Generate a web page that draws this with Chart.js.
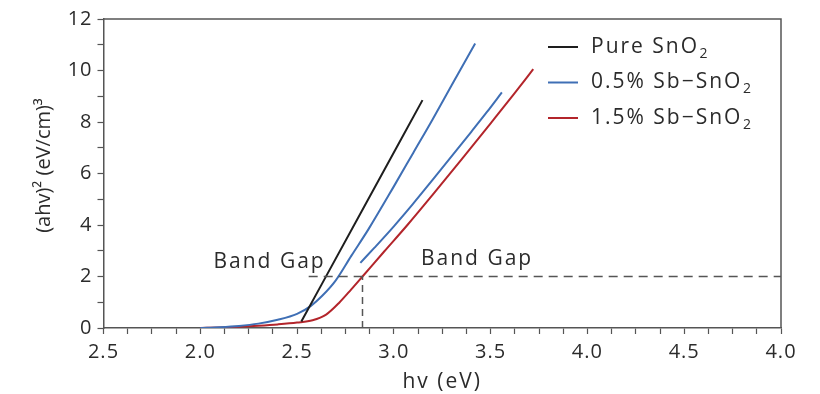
<!DOCTYPE html>
<html><head><meta charset="utf-8">
<script src="https://cdn.jsdelivr.net/npm/chart.js@4/dist/chart.umd.min.js"></script>
<style>html,body{margin:0;padding:0;background:#fff;} #wrap{width:820px;height:394px;position:relative}</style>
</head><body><div id="wrap"><canvas id="c" width="820" height="394"></canvas></div>
<script>
// ---- data ----
const xTickValues = [1.5, 2.0, 2.5, 3.0, 3.5, 4.0, 4.5, 5.0];
const xTickLabels = ['2.5', '2.0', '2.5', '3.0', '3.5', '4.0', '4.5', '4.0'];
const yTickValues = [0, 2, 4, 6, 8, 10, 12];
const yTickLabels = ['0', '2', '4', '6', '8', '10', '12'];
const xTitle = 'hv (eV)';
const yTitle = '(ahv)² (eV/cm)³';

const seriesNames = ['Pure SnO₂', '0.5% Sb−SnO₂', '1.5% Sb−SnO₂'];
const seriesColors = ['#1e1e1e', '#3f6fb5', '#b3252b'];

const hvPure = [2.522, 2.85, 3.148];
const yPure  = [0.25, 4.76, 8.85];

const hvBlueA = [2.0, 2.1, 2.2, 2.3, 2.4, 2.5, 2.57, 2.63, 2.7, 2.78, 2.87, 3.0, 3.1, 3.2, 3.3, 3.42];
const yBlueA  = [0.0, 0.03, 0.08, 0.17, 0.32, 0.55, 0.85, 1.25, 1.85, 2.8, 3.85, 5.5, 6.8, 8.1, 9.45, 11.05];

const hvBlueB = [2.827, 2.9, 3.0, 3.1, 3.2, 3.3, 3.4, 3.48, 3.558];
const yBlueB  = [2.53, 3.12, 3.95, 4.83, 5.75, 6.68, 7.62, 8.38, 9.15];

const hvRed = [2.0, 2.1, 2.2, 2.3, 2.4, 2.5, 2.58, 2.65, 2.72, 2.78, 2.838, 2.95, 3.07, 3.2, 3.35, 3.5, 3.62, 3.72];
const yRed  = [0.0, 0.02, 0.05, 0.09, 0.14, 0.21, 0.3, 0.52, 1.0, 1.5, 2.0, 2.97, 4.0, 5.17, 6.55, 7.95, 9.08, 10.05];

const bandGapY = 2;
const bandGapHv = 2.838;
const dashStartHv = 2.56;
const dashEndHv = 5.0;

const annotationTexts = ['Band Gap', 'Band Gap'];
const annotationHv = [2.358, 3.43];
const annotationY = [2.57, 2.68];

// ---- build ----
const pts = (xs, ys) => xs.map((x, i) => ({x: x, y: ys[i]}));
const FONT = "'Open Sans', 'DejaVu Sans', sans-serif";
const TXT = '#2b2b2b';
Chart.defaults.font.family = FONT;
Chart.defaults.color = TXT;

const lineDs = (label, data, color, legend) => ({
  label, data, borderColor: color, backgroundColor: color, borderWidth: 2,
  pointRadius: 0, showLine: true, tension: 0.4, cubicInterpolationMode: 'monotone',
  fill: false, inLegend: legend
});

const datasets = [
  {label: 'hdash', data: [{x: dashStartHv, y: bandGapY}, {x: dashEndHv, y: bandGapY}], borderColor: '#555', borderWidth: 1.5, borderDash: [9, 6], pointRadius: 0, showLine: true, inLegend: false},
  {label: 'vdash', data: [{x: bandGapHv, y: 0}, {x: bandGapHv, y: bandGapY}], borderColor: '#555', borderWidth: 1.5, borderDash: [7, 5], pointRadius: 0, showLine: true, inLegend: false},
  lineDs(seriesNames[0], pts(hvPure, yPure), seriesColors[0], true),
  lineDs(seriesNames[1], pts(hvBlueA, yBlueA), seriesColors[1], true),
  lineDs(seriesNames[1] + ' b', pts(hvBlueB, yBlueB), seriesColors[1], false),
  lineDs(seriesNames[2], pts(hvRed, yRed), seriesColors[2], true)
];

function drawSubText(ctx, text, x, y, size) {
  const parts = text.split('₂');
  let cx = x;
  parts.forEach((p, i) => {
    ctx.font = size + 'px ' + FONT;
    ctx.fillText(p, cx, y);
    cx += ctx.measureText(p).width;
    if (i < parts.length - 1) {
      ctx.font = Math.round(size * 0.68) + 'px ' + FONT;
      ctx.fillText('2', cx + 0.5, y + size * 0.32);
      cx += ctx.measureText('2').width + 0.5;
    }
  });
}

const decor = {
  id: 'decor',
  beforeDraw(chart) { chart.ctx.letterSpacing = '1px'; },
  afterDraw(chart) {
    const ctx = chart.ctx, ca = chart.chartArea;
    const xs = chart.scales.x, ys = chart.scales.y;
    ctx.save();
    // frame top & right
    ctx.strokeStyle = '#555'; ctx.lineWidth = 1.5;
    ctx.beginPath();
    ctx.moveTo(ca.left, ca.top); ctx.lineTo(ca.right, ca.top); ctx.lineTo(ca.right, ca.bottom);
    ctx.stroke();
    // axis titles
    ctx.fillStyle = TXT;
    ctx.textAlign = 'center'; ctx.textBaseline = 'middle';
    ctx.letterSpacing = '2px';
    ctx.font = '21px ' + FONT;
    ctx.fillText(xTitle, (ca.left + ca.right) / 2, ca.bottom + 54);
    ctx.save();
    ctx.letterSpacing = '0px';
    ctx.font = '20px ' + FONT;
    ctx.translate(44, (ca.top + ca.bottom) / 2 - 8);
    ctx.rotate(-Math.PI / 2);
    ctx.fillText(yTitle, 0, 0);
    ctx.restore();
    // annotations
    ctx.letterSpacing = '2px';
    ctx.font = '21px ' + FONT;
    annotationTexts.forEach((t, i) => {
      ctx.fillText(t, xs.getPixelForValue(annotationHv[i]), ys.getPixelForValue(annotationY[i]));
    });
    // legend
    const items = chart.data.datasets.filter(d => d.inLegend);
    const lx = 548, ly = 47, gap = 35.5;
    items.forEach((d, i) => {
      const y = ly + i * gap;
      ctx.strokeStyle = d.borderColor; ctx.lineWidth = 2;
      ctx.beginPath(); ctx.moveTo(lx, y); ctx.lineTo(lx + 30, y); ctx.stroke();
      ctx.fillStyle = TXT; ctx.textAlign = 'left'; ctx.textBaseline = 'middle';
      drawSubText(ctx, d.label, lx + 43, y, 21);
    });
    ctx.restore();
  }
};

new Chart(document.getElementById('c'), {
  type: 'scatter',
  data: {datasets},
  plugins: [decor],
  options: {
    responsive: false, animation: false,
    layout: {padding: {left: 56, right: 39, top: 19, bottom: 0}},
    plugins: {legend: {display: false}, tooltip: {enabled: false}},
    scales: {
      x: {
        type: 'linear', min: 1.5, max: 5.0,
        afterFit: (s) => { s.height = 66; },
        ticks: {
          stepSize: 0.125, autoSkip: false, maxRotation: 0, minRotation: 0, padding: 6,
          font: {size: 20}, color: TXT,
          callback: (v) => { const i = xTickValues.findIndex(t => Math.abs(t - v) < 1e-6); return i >= 0 ? xTickLabels[i] : ''; }
        },
        grid: {drawOnChartArea: false, tickLength: 6, color: '#555', tickColor: '#555', tickWidth: 1.2},
        border: {color: '#555', width: 1.5},
        title: {display: false}
      },
      y: {
        type: 'linear', min: 0, max: 12,
        afterFit: (s) => { s.width = 47.5; },
        ticks: {
          stepSize: 1, autoSkip: false, padding: 5, font: {size: 20}, color: TXT,
          callback: (v) => { const i = yTickValues.indexOf(v); return i >= 0 ? yTickLabels[i] : ''; }
        },
        grid: {drawOnChartArea: false, tickLength: 6, color: '#555', tickColor: '#555', tickWidth: 1.2},
        border: {color: '#555', width: 1.5},
        title: {display: false}
      }
    }
  }
});
</script></body></html>
